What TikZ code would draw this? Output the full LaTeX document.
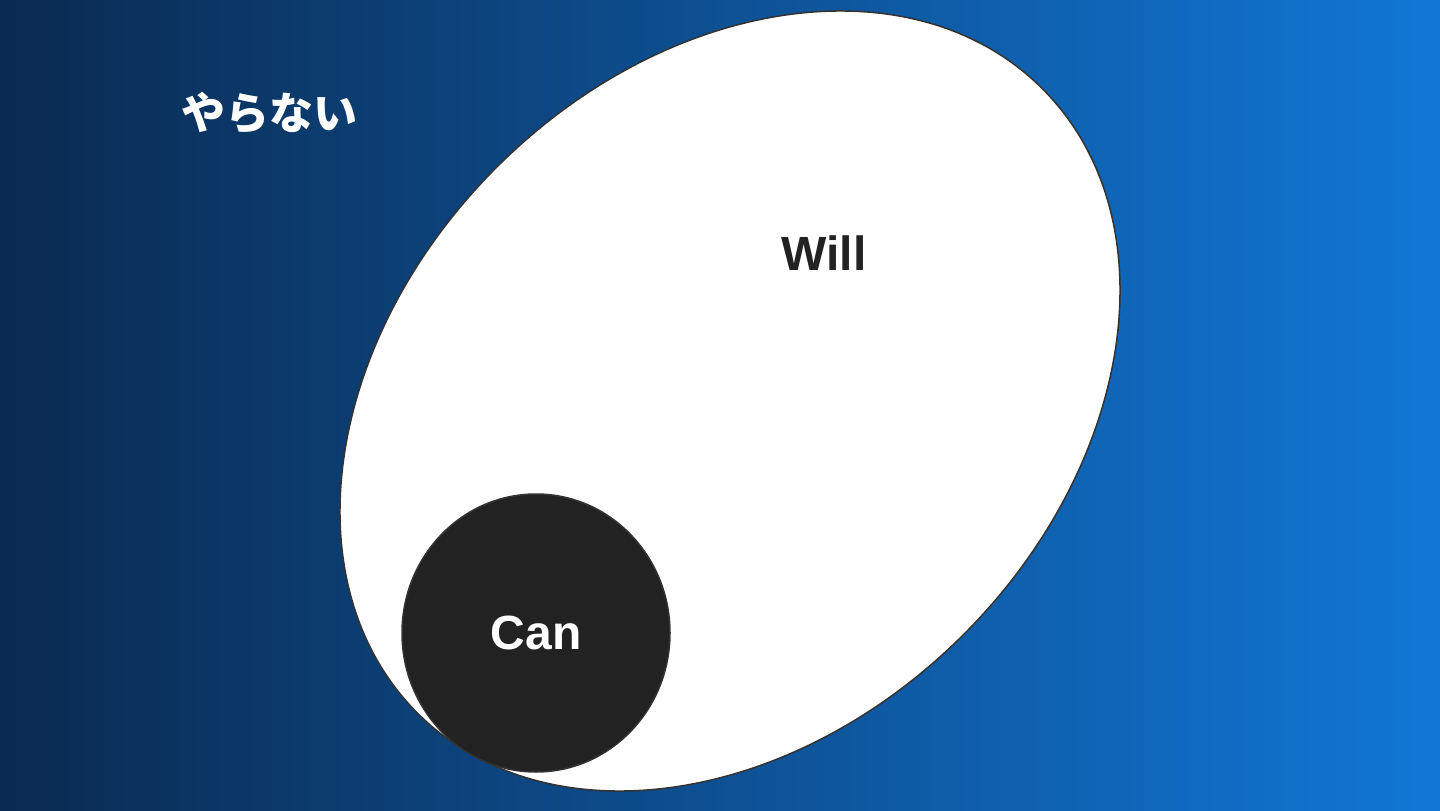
\documentclass[tikz,border=0pt]{standalone}
\usepackage{fontspec}
\setmainfont{Liberation Sans}
\newfontfamily\jpfont{Noto Sans CJK JP}
\usetikzlibrary{shapes.geometric}
\definecolor{bgleft}{HTML}{0A2A50}
\definecolor{bgright}{HTML}{1177D6}
\definecolor{inkdark}{HTML}{222222}
\definecolor{edge}{HTML}{333333}
\tikzset{
  blob/.style={ellipse, draw=edge, line width=0.75pt, inner sep=0pt},
  biglabel/.style={font=\fontsize{24pt}{28pt}\selectfont\bfseries, inner sep=0pt}
}
\begin{document}
\begin{tikzpicture}[x=0.5pt,y=0.5pt]
  \useasboundingbox (0,0) rectangle (1440,810);
  \shade[left color=bgleft, right color=bgright] (0,0) rectangle (1440,810);
  \node[blob, fill=white, minimum width=441.7pt, minimum height=330.3pt, rotate=45] (will) at (730,409) {};
  \node[blob, fill=inkdark, minimum width=134pt, minimum height=139pt] (can) at (536,177) {};
  \node[biglabel, text=inkdark] (willlabel) at (824,557) {Will};
  \node[biglabel, text=white] (canlabel) at (can.center) {Can};
  \node[font=\jpfont\fontsize{22pt}{26pt}\selectfont\bfseries, text=white, inner sep=0pt] (yaranai) at (269,697) {やらない};
\end{tikzpicture}
\end{document}
